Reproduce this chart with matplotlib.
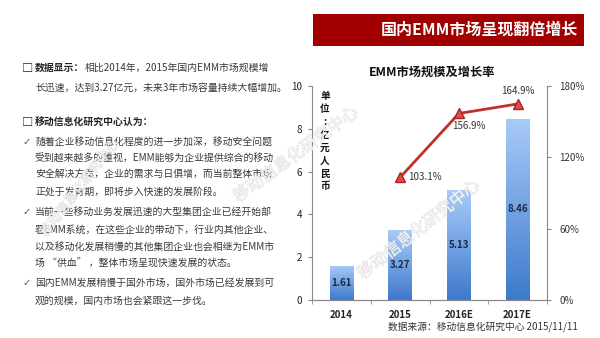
import numpy as np
import matplotlib
matplotlib.use('Agg')
import matplotlib.pyplot as plt
from matplotlib.colors import LinearSegmentedColormap
from matplotlib.patches import Rectangle
import matplotlib.patheffects as pe

plt.rcParams['font.family'] = ['Noto Sans CJK SC', 'DejaVu Sans']

# chart data
years = ['2014', '2015', '2016E', '2017E']
market_size = [1.61, 3.27, 5.13, 8.46]          # 亿元人民币
growth_rate = [np.nan, 103.1, 156.9, 164.9]     # %

# slide text
header = '国内EMM市场呈现翻倍增长'
chart_title = 'EMM市场规模及增长率'
unit_chars = ['单', '位', ':', '亿', '元', '人', '民', '币']
source = '数据来源：移动信息化研究中心 2015/11/11'
watermark = '移动信息化研究中心'

W, H = 600, 338
fig = plt.figure(figsize=(W / 100, H / 100), dpi=100)


def px(x, y):
    return x / W, 1 - y / H


# header bar
fig.patches.append(Rectangle(px(313, 46), 271 / W, 32 / H, transform=fig.transFigure,
                             facecolor='#a00000', edgecolor='none'))
fig.text(*px(578, 30), header, color='white', fontsize=11.5, fontweight='bold',
         ha='right', va='center')

# left text block
body_color = '#3a3a3a'
fs = 7.1
fig.text(*px(22, 68), '□', fontsize=fs + 1, fontweight='bold', va='center', color='#222')
fig.text(*px(35, 68), '数据显示：', fontsize=fs, fontweight='bold', va='center', color='#222')
fig.text(*px(85, 68), '相比2014年，2015年国内EMM市场规模增', fontsize=fs, va='center', color=body_color)
fig.text(*px(35, 88), '长迅速，达到3.27亿元，未来3年市场容量持续大幅增加。', fontsize=fs, va='center', color=body_color)
fig.text(*px(22, 123), '□', fontsize=fs + 1, fontweight='bold', va='center', color='#222')
fig.text(*px(35, 123), '移动信息化研究中心认为：', fontsize=fs, fontweight='bold', va='center', color='#222')

check_lines = [
    (142, True, '随着企业移动信息化程度的进一步加深，移动安全问题'),
    (158, False, '受到越来越多的重视，EMM能够为企业提供综合的移动'),
    (174, False, '安全解决方案，企业的需求与日俱增，而当前整体市场'),
    (192, False, '正处于发育期，即将步入快速的发展阶段。'),
    (212, True, '当前一些移动业务发展迅速的大型集团企业已经开始部'),
    (230, False, '署EMM系统，在这些企业的带动下，行业内其他企业、'),
    (247, False, '以及移动化发展稍慢的其他集团企业也会相继为EMM市'),
    (264, False, '场 “供血” ，整体市场呈现快速发展的状态。'),
    (283, True, '国内EMM发展稍慢于国外市场，国外市场已经发展到可'),
    (301, False, '观的规模，国内市场也会紧跟这一步伐。'),
]
for y, bullet, line in check_lines:
    if bullet:
        fig.text(*px(23, y), '✓', fontsize=fs, va='center', color='#555',
                 family=['DejaVu Sans'])
    fig.text(*px(35, y), line, fontsize=fs, va='center', color=body_color)

# chart axes
ax = fig.add_axes([312 / W, 1 - 300 / H, 235 / W, 214 / H])
ax2 = ax.twinx()
x = np.arange(len(years))

bars = ax.bar(x, market_size, width=0.4, color='none', edgecolor='none')
cmap = LinearSegmentedColormap.from_list('blues', ['#3d7acb', '#a8cbf8'])
grad = np.linspace(0, 1, 256).reshape(-1, 1)
for b in bars:
    x0, w, h = b.get_x(), b.get_width(), b.get_height()
    im = ax.imshow(grad, cmap=cmap, origin='lower', aspect='auto',
                   extent=[x0, x0 + w, 0, h], zorder=2)
    im.set_clip_path(b)
for xi, v in zip(x, market_size):
    ax.text(xi, v / 2, f'{v:.2f}', ha='center', va='center', fontsize=7,
            fontweight='bold', color='#1c2a48', zorder=3)

ax.set_xlim(-0.5, 3.5)
ax.set_ylim(0, 10)
ax.set_yticks(range(0, 11, 2))
ax.set_xticks(x)
ax.set_xticklabels(years, fontsize=7, fontweight='bold', color='#222')
ax.set_xticks(np.arange(-0.5, 4, 1), minor=True)
ax.tick_params(axis='x', which='major', length=0, pad=7)
ax.tick_params(axis='x', which='minor', length=3, color='#888', direction='out')
ax.tick_params(axis='y', length=3, color='#888', labelsize=7, labelcolor='#222', pad=4)

ax2.plot(x, growth_rate, color='#c0302b', linewidth=2, marker='^', markersize=7,
         markerfacecolor='#d9504a', markeredgecolor='#b02020', zorder=4)
ax2.set_ylim(0, 180)
ax2.set_yticks([0, 60, 120, 180])
ax2.set_yticklabels(['0%', '60%', '120%', '180%'])
ax2.tick_params(axis='y', length=3, color='#888', labelsize=7, labelcolor='#333', pad=6)

offsets = {1: (8, 0, 'left', 'center'), 2: (10, -13, 'center', 'center'),
           3: (0, 13, 'center', 'center')}
for i, (dx, dy, ha, va) in offsets.items():
    ax2.annotate(f'{growth_rate[i]:.1f}%', (x[i], growth_rate[i]), xytext=(dx, dy),
                 textcoords='offset pixels', ha=ha, va=va, fontsize=7, color='#333')

for a in (ax, ax2):
    a.spines['top'].set_visible(False)
    for s in ('left', 'right', 'bottom'):
        a.spines[s].set_color('#888')
        a.spines[s].set_linewidth(0.8)
ax.spines['right'].set_visible(False)
ax2.spines['left'].set_visible(False)
ax.patch.set_visible(False)

fig.text(*px(432, 72), chart_title, fontsize=8.8, fontweight='bold', ha='center',
         va='center', color='#111')
for k, ch in enumerate(unit_chars):
    fig.text(*px(325, 96 + k * 12.9), ch, fontsize=7, fontweight='bold',
             ha='center', va='center', color='#111')
fig.text(*px(578, 327), source, fontsize=7, ha='right', va='center', color='#333')

# faint diagonal watermarks
for cx, cy, rot, size in [(80, 188, 52, 9.5), (296, 155, 36, 12), (419, 230, 38, 12)]:
    fig.text(*px(cx, cy), watermark, fontsize=size, rotation=rot, ha='center', va='center',
             rotation_mode='anchor', color='#f7f7f7', alpha=0.8, zorder=10,
             path_effects=[pe.withStroke(linewidth=0.6, foreground='#d6d6d6')])

fig.savefig('out.png', dpi=100)
